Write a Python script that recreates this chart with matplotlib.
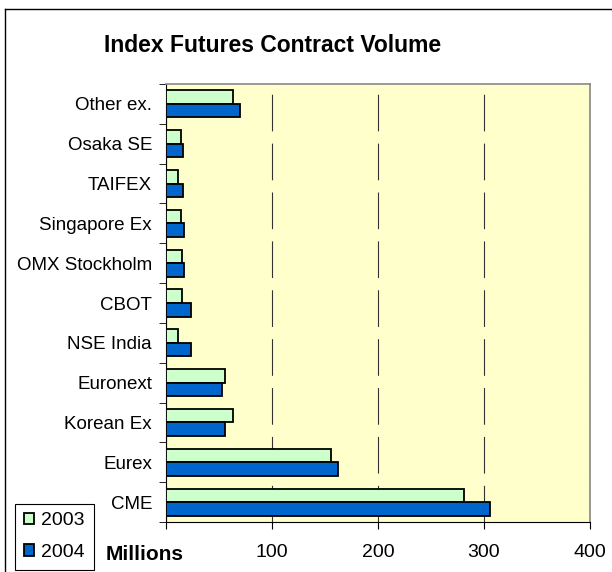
import numpy as np
import matplotlib.pyplot as plt
from matplotlib.lines import Line2D

# Index futures volume by exchange, millions of contracts
exchanges = ['CME', 'Eurex', 'Korean Ex', 'Euronext', 'NSE India', 'CBOT',
             'OMX Stockholm', 'Singapore Ex', 'TAIFEX', 'Osaka SE', 'Other ex.']
vol_2003 = [281, 156, 63, 56, 11, 15, 15, 14, 11, 14, 63]
vol_2004 = [306, 162, 56, 53, 24, 24, 17, 17, 16, 16, 70]
x_ticks = [0, 100, 200, 300, 400]
x_labels = ['', '100', '200', '300', '400']

plt.rcParams['font.family'] = ['Liberation Sans', 'DejaVu Sans']

fig = plt.figure(figsize=(6.12, 5.72), dpi=100)
ax = fig.add_axes([166 / 612, 1 - 522 / 572, 424 / 612, 438 / 572])
ax.set_facecolor('#FFFFCC')

y = np.arange(len(exchanges))
h = 0.34
ax.barh(y + h / 2, vol_2003, height=h, color='#CCFFCC', edgecolor='black',
        linewidth=1.3, label='2003', zorder=3)
ax.barh(y - h / 2, vol_2004, height=h, color='#0066CC', edgecolor='black',
        linewidth=1.3, label='2004', zorder=3)

ax.set_xlim(0, 400)
ax.set_ylim(-0.5, len(exchanges) - 0.5)
ax.set_xticks(x_ticks)
ax.set_xticklabels(x_labels, fontsize=14)
ax.set_yticks(y)
ax.set_yticklabels(exchanges, fontsize=13.5)
ax.set_yticks(np.arange(len(exchanges) + 1) - 0.5, minor=True)
ax.tick_params(axis='y', which='major', length=0, pad=10)
ax.tick_params(axis='y', which='minor', length=5, direction='out', color='black')
ax.tick_params(axis='x', length=5, direction='out', pad=11)

ax.xaxis.grid(True, color='#333333', linewidth=0.8, linestyle=(0, (33, 11)), zorder=1)

for s in ['top', 'right']:
    ax.spines[s].set_color('#888888')
    ax.spines[s].set_linewidth(1.2)
for s in ['left', 'bottom']:
    ax.spines[s].set_color('black')

fig.text(273 / 612, 1 - 46 / 572, 'Index Futures Contract Volume', fontsize=16.5,
         fontweight='bold', ha='center', va='center')
fig.text(145 / 612, 1 - 554 / 572, 'Millions', fontsize=15, fontweight='bold',
         ha='center', va='center')

leg = fig.legend(loc='lower left', bbox_to_anchor=(15 / 612, 0.004), fontsize=14,
                 handlelength=0.55, handleheight=0.55, handletextpad=0.35,
                 labelspacing=0.75, borderpad=0.45, borderaxespad=0,
                 fancybox=False, framealpha=1)
leg.get_frame().set_edgecolor('black')
leg.get_frame().set_linewidth(0.8)

# outer chart border (left and top visible)
fig.add_artist(Line2D([5 / 612, 5 / 612], [0, 1 - 9 / 572], color='black', linewidth=1))
fig.add_artist(Line2D([5 / 612, 1], [1 - 9 / 572, 1 - 9 / 572], color='black', linewidth=1))

fig.savefig('out.png', dpi=100)
